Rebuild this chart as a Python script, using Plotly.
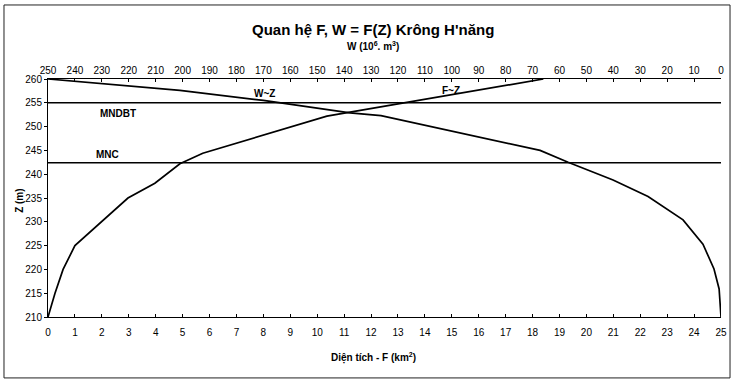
import plotly.graph_objects as go

# ---- data ----
Z_F = [210, 215, 220, 225, 235, 238.1, 242.2, 244.4, 252.2, 255.3, 260]
F_vals = [0, 0.26, 0.56, 1.0, 2.97, 3.97, 4.9, 5.75, 10.36, 13.5, 18.4]

Z_W = [210, 215.9, 220.1, 225.3, 230.4, 235.3, 238.8, 242.5, 245.0, 252.3, 252.9, 255.5, 257.6, 260]
W_vals = [0, 0.7, 2.6, 6.7, 14.1, 27.1, 40.1, 56.8, 67.2, 126.3, 137.8, 170, 201, 250]

MNDBT = 255.0
MNC = 242.4

F_ticks = list(range(0, 26))
W_ticks = list(range(0, 251, 10))
Z_ticks = list(range(210, 261, 5))

FONT = "Arial, Liberation Sans, sans-serif"

fig = go.Figure()
fig.add_trace(go.Scatter(x=F_vals, y=Z_F, mode="lines", line=dict(color="black", width=1.7),
                         xaxis="x", yaxis="y", showlegend=False, name="F~Z"))
fig.add_trace(go.Scatter(x=W_vals, y=Z_W, mode="lines", line=dict(color="black", width=1.7),
                         xaxis="x2", yaxis="y", showlegend=False, name="W~Z"))

for lvl in (MNDBT, MNC):
    fig.add_shape(type="line", xref="paper", yref="y", x0=0, x1=1, y0=lvl, y1=lvl,
                  line=dict(color="black", width=1.4))

# outer frame
fig.add_shape(type="rect", xref="paper", yref="paper", x0=-0.0654, x1=1.0134, y0=-0.256, y1=1.311,
              line=dict(color="#222", width=1))

ann = [
    dict(text="<b>Quan hệ F, W = F(Z) Krông H'năng</b>", x=0.483, y=1.206, size=15),
    dict(text="<b>W (10<sup>6</sup>. m<sup>3</sup>)</b>", x=0.483, y=1.139, size=10),
    dict(text="<b>Diện tích - F (km<sup>2</sup>)</b>", x=0.483, y=-0.172, size=10),
]
annotations = []
for a in ann:
    annotations.append(dict(text=a["text"], x=a["x"], y=a["y"], xref="paper", yref="paper",
                            showarrow=False, font=dict(family=FONT, size=a["size"], color="black"),
                            xanchor="center", yanchor="middle"))
annotations.append(dict(text="<b>Z (m)</b>", x=-0.0535, y=0.49, xref="paper", yref="paper",
                        showarrow=False, textangle=-90, font=dict(family=FONT, size=10, color="black")))
for txt, fx, zy in [("W~Z", 8.06, 256.9), ("F~Z", 14.97, 257.6), ("MNDBT", 2.6, 252.7), ("MNC", 2.2, 244.1)]:
    annotations.append(dict(text="<b>%s</b>" % txt, x=fx, y=zy, xref="x", yref="y", showarrow=False,
                            font=dict(family=FONT, size=10, color="black")))

axis_common = dict(showgrid=False, zeroline=False, showline=True, linecolor="black", linewidth=1,
                   tickcolor="black", ticklen=3, tickfont=dict(size=10), automargin=False)

fig.update_layout(
    width=734, height=386,
    margin=dict(l=48, r=13, t=79, b=69, autoexpand=False),
    paper_bgcolor="white", plot_bgcolor="white",
    font=dict(family=FONT, size=10, color="black"),
    xaxis=dict(range=[0, 25], tickmode="array", tickvals=F_ticks, ticktext=[str(v) for v in F_ticks],
               ticks="inside", ticklabelstandoff=6, **axis_common),
    xaxis2=dict(range=[250, 0], overlaying="x", side="top", anchor="y", tickmode="array",
                tickvals=W_ticks, ticktext=[str(v) for v in W_ticks], ticks="inside", **axis_common),
    yaxis=dict(range=[210, 260], tickmode="array", tickvals=Z_ticks, ticktext=[str(v) for v in Z_ticks],
               ticks="outside", **axis_common),
    annotations=annotations,
)

fig.write_html("out.html", config={"displayModeBar": False},
               post_script="document.body.style.margin='0';document.body.style.padding='0';"
                           "document.body.style.overflow='hidden';")
